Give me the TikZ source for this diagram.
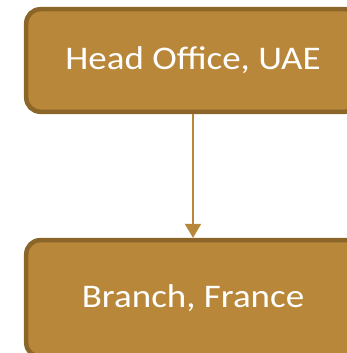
\documentclass[tikz,border=0pt]{standalone}
\usepackage{fontspec}
\setmainfont{Carlito}
\usetikzlibrary{arrows.meta}
\definecolor{boxfill}{RGB}{185,135,58}
\definecolor{boxline}{RGB}{140,101,40}
\tikzset{
  orgbox/.style={draw=boxline, fill=boxfill, line width=4.5bp,
    rounded corners=14bp, minimum width=333.5bp, inner sep=0pt,
    text=white, font=\fontsize{33bp}{38bp}\selectfont},
  link/.style={draw=boxfill, line width=2bp,
    -{Triangle[width=16bp,length=14bp]}}
}
\newcommand{\widetext}[1]{\scalebox{1.12}[1]{#1}}
\begin{document}
\begin{tikzpicture}[x=1bp,y=1bp]
  \useasboundingbox (0,0) rectangle (347,353);
  \clip (0,0) rectangle (347,353);
  \node[orgbox, minimum height=102.5bp] (head) at (193,292.5) {\widetext{Head Office, UAE}};
  \node[orgbox, minimum height=116.75bp] (branch) at (193,54.5) {\widetext{Branch, France}};
  \draw[link] (head.south) -- (branch.north);
\end{tikzpicture}
\end{document}
